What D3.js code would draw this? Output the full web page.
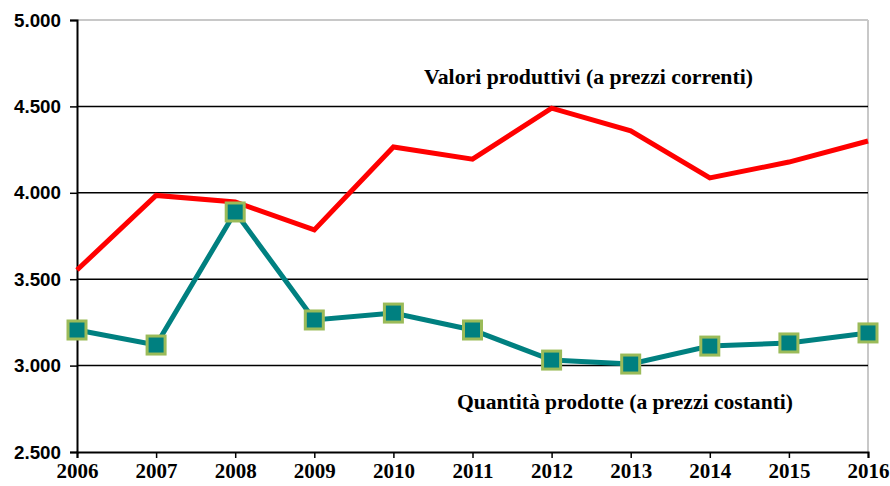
<!DOCTYPE html>
<html>
  <head>
    <meta charset="utf-8">
    <title>Valori e quantità</title>
    <script src="https://d3js.org/d3.v7.min.js"></script>
    <style>
      body { margin: 0; background: #fff; }
      .ylab { font-family: "Liberation Sans", Arial, sans-serif; font-weight: bold; font-size: 19px; }
      .xlab { font-family: "Liberation Serif", serif; font-weight: bold; font-size: 21px; }
      .note { font-family: "Liberation Serif", serif; font-weight: bold; font-size: 22px; }
    </style>
  </head>
  <body>
    <div class="chart"></div>
    <script>
      // data
      var years = [2006, 2007, 2008, 2009, 2010, 2011, 2012, 2013, 2014, 2015, 2016];
      var valori = [3553, 3985, 3947, 3785, 4265, 4195, 4490, 4358, 4086, 4178, 4300];
      var quantita = [3206, 3119, 3889, 3264, 3304, 3206, 3032, 3009, 3113, 3131, 3189];
      var yTicks = [2500, 3000, 3500, 4000, 4500, 5000];

      var width = 890, height = 486;
      var plotLeft = 77, plotRight = 868, plotTop = 20, plotBottom = 452;

      var svg = d3.select(".chart").append("svg")
        .attr("width", width)
        .attr("height", height);

      var x = d3.scalePoint()
        .domain(years)
        .range([plotLeft, plotRight]);

      var y = d3.scaleLinear()
        .domain([2500, 5000])
        .range([plotBottom, plotTop]);

      var fmt = function(d) { return d3.format(",")(d).replace(",", "."); };

      // frame: light grey top and right
      svg.append("line")
        .attr("x1", plotLeft).attr("x2", plotRight)
        .attr("y1", y(5000)).attr("y2", y(5000))
        .attr("stroke", "#c8c8c8").attr("stroke-width", 2);
      svg.append("line")
        .attr("x1", plotRight).attr("x2", plotRight)
        .attr("y1", plotTop).attr("y2", plotBottom)
        .attr("stroke", "#c8c8c8").attr("stroke-width", 2);

      // gridlines
      svg.selectAll(".grid")
        .data(yTicks.filter(function(d) { return d > 2500 && d < 5000; }))
        .enter().append("line")
          .attr("class", "grid")
          .attr("x1", plotLeft).attr("x2", plotRight)
          .attr("y1", function(d) { return y(d); })
          .attr("y2", function(d) { return y(d); })
          .attr("stroke", "#000").attr("stroke-width", 1.5);

      // y axis
      var yAxis = svg.append("g")
        .attr("transform", "translate(" + plotLeft + ",0)")
        .call(d3.axisLeft(y).tickValues(yTicks).tickFormat(fmt).tickSize(7).tickPadding(9));
      yAxis.select(".domain").attr("stroke", "#000").attr("stroke-width", 2);
      yAxis.selectAll(".tick line").attr("stroke-width", 1.5);
      yAxis.selectAll("text").attr("class", "ylab").attr("fill", "#000")
        .attr("textLength", 47).attr("lengthAdjust", "spacingAndGlyphs");

      // x axis
      var xAxis = svg.append("g")
        .attr("transform", "translate(0," + plotBottom + ")")
        .call(d3.axisBottom(x).tickSize(6).tickPadding(5));
      xAxis.select(".domain").attr("stroke", "#000").attr("stroke-width", 2);
      xAxis.selectAll(".tick line").attr("stroke-width", 1.5);
      xAxis.selectAll("text").attr("class", "xlab").attr("fill", "#000");

      var line = d3.line()
        .x(function(d, i) { return x(years[i]); })
        .y(function(d) { return y(d); });

      svg.append("path")
        .datum(valori)
        .attr("d", line)
        .attr("fill", "none")
        .attr("stroke", "#ff0000")
        .attr("stroke-width", 5);

      svg.append("path")
        .datum(quantita)
        .attr("d", line)
        .attr("fill", "none")
        .attr("stroke", "#008080")
        .attr("stroke-width", 5);

      var s = 18;
      svg.selectAll(".mark")
        .data(quantita)
        .enter().append("rect")
          .attr("class", "mark")
          .attr("x", function(d, i) { return x(years[i]) - s / 2; })
          .attr("y", function(d) { return y(d) - s / 2; })
          .attr("width", s).attr("height", s)
          .attr("fill", "#008080")
          .attr("stroke", "#9bbb59")
          .attr("stroke-width", 3);

      svg.append("text")
        .attr("class", "note")
        .attr("x", 424).attr("y", 84)
        .attr("textLength", 329).attr("lengthAdjust", "spacingAndGlyphs")
        .text("Valori produttivi (a prezzi correnti)");

      svg.append("text")
        .attr("class", "note")
        .attr("x", 457).attr("y", 409)
        .attr("textLength", 336).attr("lengthAdjust", "spacingAndGlyphs")
        .text("Quantità prodotte (a prezzi costanti)");
    </script>
  </body>
</html>
